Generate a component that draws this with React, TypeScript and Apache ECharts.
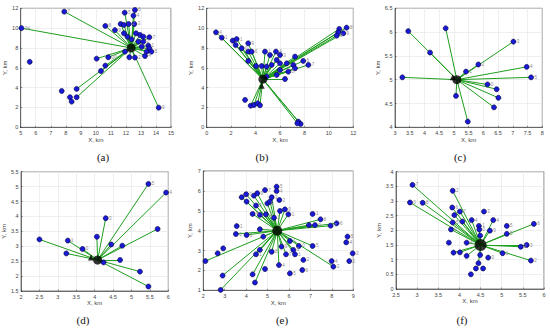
import React, { useEffect, useRef } from "react";
import * as echarts from "echarts";

type Node = [number, number, number]; // x, y, linked to centre (1/0)

const nodesA: Node[] = [
  [5.05, 10.0, 1], [5.6, 6.6, 0], [7.9, 11.66, 1], [7.73, 3.66, 0], [8.28, 3.03, 0],
  [8.39, 2.59, 0], [8.72, 3.87, 1], [8.72, 3.03, 1], [10.34, 5.68, 1], [10.63, 6.22, 1],
  [10.05, 6.92, 1], [10.83, 7.06, 1], [10.63, 10.22, 1], [11.27, 9.8, 1], [11.65, 10.42, 1],
  [11.87, 10.32, 1], [12.18, 10.42, 1], [12.56, 10.42, 1], [11.92, 11.56, 1], [12.6, 11.83, 1],
  [12.5, 11.26, 1], [12.67, 9.48, 1], [12.94, 9.31, 1], [13.16, 9.14, 1], [13.56, 9.08, 1],
  [12.1, 9.14, 1], [12.38, 8.87, 1], [12.83, 8.64, 1], [13.16, 8.64, 1], [13.49, 8.24, 1],
  [13.56, 7.97, 1], [13.05, 8.13, 1], [13.38, 7.63, 1], [13.7, 7.63, 1], [13.27, 7.19, 1],
  [12.6, 7.03, 1], [12.23, 7.06, 1], [11.94, 7.63, 1], [14.18, 1.98, 1], [11.87, 9.48, 1],
];
const labelsA: string[] = [
  "34", "", "7", "", "", "", "", "", "", "",
  "", "30", "8", "9", "", "", "2", "3", "5", "6",
  "4", "", "", "", "7", "", "", "", "2", "1",
  "", "", "", "5", "4", "2", "", "1", "9", "",
];

const nodesB: Node[] = [
  [0.76, 9.58, 1], [1.23, 9.04, 1], [2.13, 8.74, 1], [2.45, 8.9, 1], [2.37, 8.3, 1],
  [2.86, 7.97, 1], [3.4, 8.47, 1], [3.4, 7.63, 1], [3.68, 7.63, 1], [3.4, 6.69, 1],
  [3.14, 2.76, 0], [3.6, 2.18, 1], [3.87, 2.25, 1], [4.17, 2.42, 1], [4.36, 2.22, 1],
  [4.04, 6.18, 1], [4.5, 6.18, 1], [4.77, 7.63, 1], [5.18, 7.29, 1], [5.67, 7.63, 1],
  [6.0, 7.29, 1], [4.9, 6.12, 1], [5.32, 6.29, 1], [5.73, 6.79, 1], [6.0, 6.45, 1],
  [6.55, 6.45, 1], [7.23, 7.13, 1], [7.9, 6.69, 1], [8.32, 6.29, 1], [7.09, 6.29, 1],
  [6.68, 5.61, 1], [6.41, 4.87, 1], [4.9, 5.11, 1], [5.73, 5.28, 1], [6.0, 5.78, 1],
  [7.23, 5.95, 1], [10.85, 9.92, 1], [11.45, 10.05, 1], [10.77, 9.58, 1], [11.18, 9.48, 1],
  [10.64, 9.24, 1], [7.5, 0.57, 1], [7.69, 0.34, 1], [7.42, 0.4, 1],
];
const labelsB: string[] = [
  "4", "1", "", "1", "", "0", "9", "", "6", "",
  "", "", "", "", "", "", "", "1", "", "4",
  "3", "", "", "", "", "", "", "6", "7", "",
  "5", "", "", "", "", "", "", "8", "", "9",
  "0", "", "", "",
];

const nodesC: Node[] = [
  [3.45, 6.02, 1], [3.25, 5.05, 1], [4.19, 5.57, 1], [4.72, 6.08, 1], [5.41, 5.17, 1],
  [5.83, 5.32, 1], [7.02, 5.8, 1], [7.47, 5.27, 1], [7.62, 5.05, 1], [6.14, 4.9, 1],
  [6.45, 4.8, 1], [6.51, 4.62, 1], [6.36, 4.42, 1], [5.07, 4.66, 1], [5.47, 4.12, 1],
];
const labelsC: string[] = ["", "", "", "", "1", "2", "3", "4", "5", "0", "", "", "", "", ""];

const nodesD: Node[] = [
  [2.5, 3.23, 1], [3.23, 2.76, 1], [3.27, 3.19, 1], [3.67, 2.91, 1], [4.06, 3.32, 1],
  [4.3, 3.94, 1], [4.45, 3.06, 1], [4.75, 3.02, 1], [4.69, 2.54, 1], [4.24, 2.46, 1],
  [5.23, 2.15, 1], [5.46, 1.65, 1], [5.46, 5.09, 1], [5.94, 4.8, 1], [5.71, 3.58, 1],
];
const labelsD: string[] = ["", "", "1", "0", "", "3", "", "", "", "", "", "", "5", "4", ""];

const nodesE: Node[] = [
  [2.1, 2.47, 1], [2.67, 2.86, 0], [2.93, 3.11, 0], [2.9, 1.74, 1], [2.81, 1.02, 1],
  [3.56, 4.23, 0], [3.52, 3.83, 1], [4.02, 3.78, 1], [3.79, 5.68, 1], [4.0, 5.83, 1],
  [4.36, 5.76, 1], [4.52, 5.88, 1], [4.02, 5.46, 1], [4.88, 6.04, 0], [4.46, 5.26, 1],
  [4.3, 4.84, 1], [4.64, 4.79, 1], [4.92, 4.82, 1], [4.99, 5.37, 1], [5.11, 5.46, 1],
  [5.19, 5.68, 1], [5.42, 6.21, 0], [5.42, 5.99, 0], [5.55, 5.54, 0], [5.58, 4.99, 1],
  [5.81, 5.07, 1], [5.97, 4.82, 1], [5.3, 4.65, 1], [4.64, 4.07, 1], [4.8, 3.7, 1],
  [4.64, 3.03, 1], [4.46, 2.81, 1], [5.19, 2.94, 1], [4.88, 2.07, 0], [4.3, 1.8, 1],
  [4.41, 1.39, 1], [5.53, 2.27, 1], [5.65, 3.2, 1], [5.86, 2.81, 1], [6.04, 3.48, 1],
  [6.2, 3.03, 1], [6.28, 2.81, 1], [6.46, 3.23, 1], [6.04, 1.85, 0], [6.67, 2.53, 0],
  [6.62, 2.02, 0], [7.1, 3.23, 1], [7.1, 4.84, 0], [7.47, 4.57, 1], [7.21, 4.28, 1],
  [6.93, 4.28, 1], [7.94, 4.25, 1], [8.22, 4.37, 1], [7.99, 2.47, 0], [8.07, 2.19, 1],
  [8.73, 3.7, 0], [8.67, 3.41, 0], [8.97, 2.86, 0], [8.81, 2.47, 0],
];
const labelsE: string[] = [
  "", "", "", "", "", "1", "0", "2", "", "0",
  "", "9", "", "7", "5", "6", "", "2", "0", "",
  "3", "5", "4", "2", "", "0", "1", "1", "", "",
  "", "1", "8", "", "", "", "4", "9", "7", "1",
  "3", "1", "0", "5", "2", "6", "5", "1", "8", "9",
  "", "7", "6", "4", "3", "5", "4", "3", "2",
];

const nodesF: Node[] = [
  [2.89, 3.55, 1], [2.83, 2.95, 1], [3.13, 2.94, 1], [3.84, 3.35, 1], [3.83, 2.78, 1],
  [3.88, 2.52, 1], [4.01, 2.64, 1], [3.84, 2.27, 1], [3.8, 2.03, 1], [4.07, 2.3, 1],
  [4.29, 2.35, 1], [4.58, 2.64, 0], [4.8, 2.35, 1], [4.46, 2.15, 1], [4.47, 2.03, 1],
  [4.72, 1.99, 1], [4.49, 1.82, 1], [5.12, 2.15, 0], [5.12, 1.88, 1], [5.76, 2.22, 1],
  [3.75, 1.58, 0], [4.17, 1.58, 1], [3.86, 1.24, 1], [4.01, 1.25, 1], [4.17, 1.13, 1],
  [4.49, 1.16, 1], [4.68, 1.07, 0], [4.45, 0.88, 1], [4.39, 0.7, 0], [4.56, 0.7, 0],
  [4.27, 0.5, 0], [5.02, 1.22, 1], [5.45, 1.44, 1], [5.59, 1.5, 1], [5.69, 0.97, 1],
];
const labelsF: string[] = [
  "7", "0", "8", "2", "6", "", "7", "5", "9", "",
  "4", "3", "4", "1", "0", "9", "", "5", "5", "6",
  "", "4", "", "", "", "", "0", "", "", "",
  "", "1", "2", "3", "2",
];

const centres: [number, number][] = [
  [12.35, 8.0], [4.6, 4.85], [5.1, 5.0], [4.08, 2.54], [5.45, 4.0], [4.5, 1.5],
];
const triangles: [number, number][][] = [[], [[4.5, 4.2]], [[4.96, 5.05]], [[3.9, 2.62]], [], []];

const xRanges: [number, number, number][] = [
  [5, 15, 1], [0, 12, 2], [3, 8, 0.5], [2, 6, 0.5], [2, 9, 1], [2.5, 6, 0.5],
];
const yRanges: [number, number, number][] = [
  [0, 12, 2], [0, 12, 2], [4, 6.5, 0.5], [1.5, 5.5, 0.5], [1, 7, 1], [0, 4, 0.5],
];
const captions = ["(a)", "(b)", "(c)", "(d)", "(e)", "(f)"];

const allNodes = [nodesA, nodesB, nodesC, nodesD, nodesE, nodesF];
const allLabels = [labelsA, labelsB, labelsC, labelsD, labelsE, labelsF];

// layout (pixels)
const boxes = [
  [20.7, 8.3, 150.3, 119],
  [206.7, 8.3, 146.6, 119],
  [395, 8.3, 147.3, 119],
  [20.7, 171.7, 147.6, 119.3],
  [203.3, 171, 150, 119.3],
  [396, 171.7, 148, 117.3],
];
const captionPos = [
  [103, 157], [262, 157], [460, 157], [83, 320], [282, 320], [462, 320],
];
const centreSizes = [9, 9, 9, 9, 10, 12];

export default function App() {
  const ref = useRef<HTMLDivElement>(null);
  useEffect(() => {
    document.body.style.margin = "0";
    if (!ref.current) return;
    const chart = echarts.init(ref.current, undefined, { renderer: "svg" });
    const axisCol = "#444";
    const font = "Liberation Sans";
    const grid = boxes.map((b) => ({
      left: b[0], top: b[1], width: b[2], height: b[3],
      show: true, borderColor: "#262626", borderWidth: 0.6, backgroundColor: "#fff",
    }));
    const commonAxis = {
      nameLocation: "middle",
      nameTextStyle: { fontSize: 6, color: axisCol, fontFamily: font },
      axisLabel: {
        fontSize: 5.5, color: axisCol, margin: 2.5, fontFamily: font,
        showMinLabel: true, showMaxLabel: true, hideOverlap: false,
      },
      axisLine: { show: true, lineStyle: { color: "#262626", width: 0.6 } },
      axisTick: { show: true, inside: true, length: 1.5, lineStyle: { color: "#262626", width: 0.5 } },
      splitLine: { show: true, lineStyle: { color: "#e4e4e4", width: 0.6 } },
    };
    const xAxis = xRanges.map((r, i) => ({
      ...commonAxis,
      gridIndex: i, type: "value", min: r[0], max: r[1], interval: r[2],
      name: "X, km", nameGap: 8,
    }));
    const yAxis = yRanges.map((r, i) => ({
      ...commonAxis,
      gridIndex: i, type: "value", min: r[0], max: r[1], interval: r[2],
      name: "Y, km", nameGap: 10,
    }));
    const series: any[] = [];
    allNodes.forEach((nodes, i) => {
      const c = centres[i];
      const labs = allLabels[i];
      series.push({
        type: "lines", coordinateSystem: "cartesian2d", xAxisIndex: i, yAxisIndex: i,
        data: nodes.filter((n) => n[2] === 1).map((n) => ({ coords: [c, [n[0], n[1]]] })),
        lineStyle: { color: "#1f9e1f", width: 1, opacity: 1 },
        z: 2, silent: true,
      });
      series.push({
        type: "scatter", xAxisIndex: i, yAxisIndex: i,
        data: nodes.map((n) => [n[0], n[1]]),
        symbolSize: 5,
        itemStyle: { color: "#1a1ad6", borderColor: "#00003a", borderWidth: 0.6, opacity: 1 },
        label: {
          show: true, position: "right", distance: 0.5, fontSize: 4.5, color: "#8a8a8a",
          fontFamily: font,
          formatter: (p: any) => labs[p.dataIndex] || "",
        },
        z: 3,
      });
      if (triangles[i].length) {
        series.push({
          type: "scatter", xAxisIndex: i, yAxisIndex: i, data: triangles[i],
          symbol: "triangle", symbolSize: 6, itemStyle: { color: "#000" }, z: 4,
        });
      }
      series.push({
        type: "scatter", xAxisIndex: i, yAxisIndex: i, data: [c],
        symbolSize: centreSizes[i], itemStyle: { color: "#000" }, z: 5,
      });
    });
    chart.setOption({
      animation: false,
      backgroundColor: "#fff",
      grid, xAxis, yAxis, series,
      graphic: captions.map((t, i) => ({
        type: "text", x: captionPos[i][0], y: captionPos[i][1],
        style: {
          text: t, fontSize: 11, fontFamily: "Liberation Serif", fill: "#111",
          align: "center", verticalAlign: "middle",
        },
      })),
    });
    return () => chart.dispose();
  }, []);
  return <div ref={ref} style={{ width: 550, height: 331 }} />;
}
